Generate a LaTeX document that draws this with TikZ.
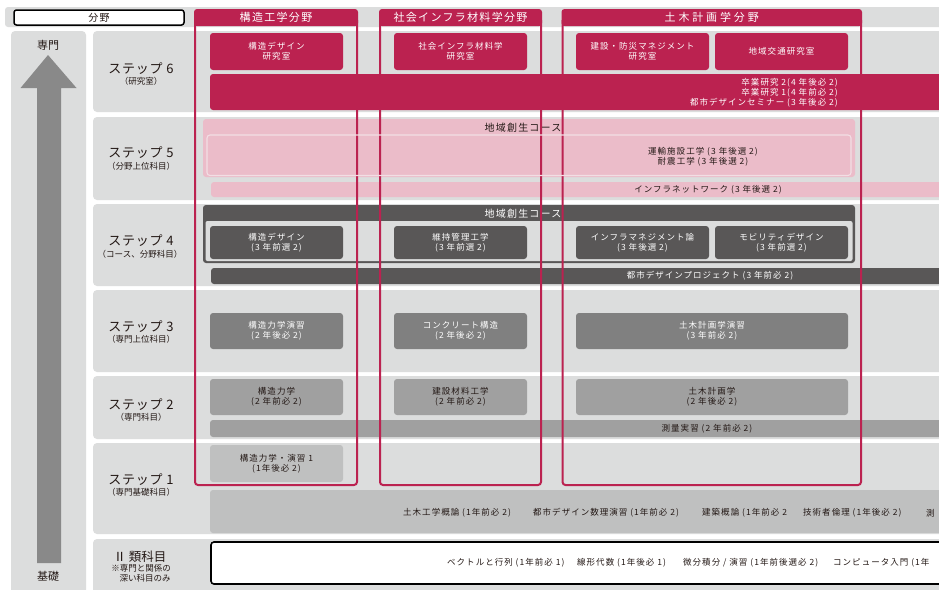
\documentclass[tikz,border=0pt]{standalone}
\usepackage{fontspec}
\setmainfont{Noto Sans CJK JP}
\newfontfamily\jpBox[LetterSpace=12]{Noto Sans CJK JP}
\newfontfamily\jpHead[LetterSpace=12]{Noto Sans CJK JP}
\newfontfamily\jpHeadW[LetterSpace=26]{Noto Sans CJK JP}
\newfontfamily\jpStep[LetterSpace=6]{Noto Sans CJK JP}
\definecolor{crim}{RGB}{187,34,80}
\definecolor{pinkc}{RGB}{235,188,201}
\definecolor{pinkline}{RGB}{242,222,228}
\definecolor{darkc}{RGB}{89,87,87}
\definecolor{midc}{RGB}{128,128,128}
\definecolor{lgc}{RGB}{160,160,160}
\definecolor{llc}{RGB}{191,192,192}
\definecolor{bgc}{RGB}{220,221,221}
\definecolor{arrc}{RGB}{137,137,137}
\definecolor{txtc}{RGB}{35,24,21}
\tikzset{
  bgpanel/.style={fill=bgc, rounded corners=4pt},
  boxbase/.style={rounded corners=3pt, inner sep=0pt, align=center, font=\jpBox\fontsize{8.5pt}{10pt}\selectfont},
  labbox/.style={boxbase, fill=crim, text=white},
  darkbox/.style={boxbase, fill=darkc, text=white},
  midbox/.style={boxbase, fill=midc, text=white},
  lgbox/.style={boxbase, fill=lgc, text=txtc},
  llbox/.style={boxbase, fill=llc, text=txtc},
  pinkbox/.style={boxbase, fill=pinkc, text=txtc},
  whitebox/.style={boxbase, fill=white, draw=black, line width=1.6pt},
  lbl/.style={inner sep=0pt, align=center, font=\jpBox\fontsize{8.5pt}{10pt}\selectfont, text=txtc},
  wlbl/.style={lbl, text=white},
  steplbl/.style={inner sep=0pt, font=\jpStep\fontsize{13pt}{13pt}\selectfont, text=txtc},
  stepsub/.style={inner sep=0pt, font=\fontsize{8.5pt}{9pt}\selectfont, text=txtc},
  header/.style={inner sep=0pt, fill=crim, text=white, rounded corners=3pt, minimum height=17pt, font=\jpHead\fontsize{11pt}{11pt}\selectfont},
  frame/.style={draw=crim, line width=2pt, rounded corners=3pt},
  coursetitle/.style={inner sep=0pt, font=\jpHead\fontsize{10pt}{10pt}\selectfont},
  sidelbl/.style={inner sep=0pt, font=\fontsize{11pt}{11pt}\selectfont, text=txtc},
}
\begin{document}
\begin{tikzpicture}[x=1pt,y=-1pt]
\useasboundingbox (0,0) rectangle (939,589);
\clip (0,0) rectangle (939,589);
\fill[white] (0,0) rectangle (939,589);

% backgrounds
\fill[bgc, rounded corners=3pt] (5,7) rectangle (950,27);
\fill[bgpanel] (11,31) rectangle (86,600);
\fill[bgpanel] (93,31) rectangle (950,112);
\fill[bgpanel] (93,117) rectangle (950,200);
\fill[bgpanel] (93,204) rectangle (950,286);
\fill[bgpanel] (93,290) rectangle (950,372);
\fill[bgpanel] (93,376) rectangle (950,439);
\fill[bgpanel] (93,443) rectangle (950,534);
\fill[bgpanel] (93,539) rectangle (950,600);

% top label
\node[draw=black, line width=1.5pt, fill=white, rounded corners=2.5pt, minimum width=170pt, minimum height=15pt, inner sep=0pt, font=\jpHead\fontsize{10pt}{10pt}\selectfont, text=txtc] (bunya) at (99,17.5) {分野};

% left arrow
\node[sidelbl] (senmon) at (48,45) {専門};
\fill[arrc] (48,55) -- (76.5,88) -- (61,88) -- (61,563) -- (37,563) -- (37,88) -- (20.5,88) -- cycle;
\node[sidelbl] (kiso) at (48,576) {基礎};

% step labels
\node[steplbl] (st6) at (141,68.5) {ステップ 6};
\node[stepsub] (st6s) at (141,81.5) {（研究室）};
\node[steplbl] (st5) at (141,153) {ステップ 5};
\node[stepsub] (st5s) at (141,166) {（分野上位科目）};
\node[steplbl] (st4) at (141,241) {ステップ 4};
\node[stepsub] (st4s) at (140,254) {（コース、分野科目）};
\node[steplbl] (st3) at (141,326.5) {ステップ 3};
\node[stepsub] (st3s) at (141,339) {（専門上位科目）};
\node[steplbl] (st2) at (141,405) {ステップ 2};
\node[stepsub] (st2s) at (141,417) {（専門科目）};
\node[steplbl] (st1) at (141,479.5) {ステップ 1};
\node[stepsub] (st1s) at (141,492) {（専門基礎科目）};
\node[inner sep=0pt, font=\fontsize{12.5pt}{12.5pt}\selectfont, text=txtc] (st0) at (140,557) {Ⅱ 類科目};
\node[stepsub] (st0s) at (141,568.5) {※専門と関係の};
\node[stepsub] (st0t) at (145,578) {深い科目のみ};

% step 6
\node[labbox, minimum width=133pt, minimum height=37pt] (lab1) at (276.5,51.5) {構造デザイン\\研究室};
\node[labbox, minimum width=133pt, minimum height=37pt] (lab2) at (460.5,51.5) {社会インフラ材料学\\研究室};
\node[labbox, minimum width=133pt, minimum height=37pt] (lab3) at (642.5,51.5) {建設・防災マネジメント\\研究室};
\node[labbox, minimum width=133pt, minimum height=37pt] (lab4) at (781.5,51.5) {地域交通研究室};
\node[labbox, minimum width=740pt, minimum height=36pt] (bar6) at (580,92) {};
\node[wlbl, align=right, anchor=east] (bar6t) at (838,92.5) {卒業研究 2(4 年後必 2)\\卒業研究 1(4 年前必 2)\\都市デザインセミナー (3 年後必 2)};

% step 5
\node[pinkbox, minimum width=652pt, minimum height=58pt] (course5) at (529,148) {};
\node[coursetitle, text=txtc] (course5t) at (523,127.5) {地域創生コース};
\node[pinkbox, minimum width=636pt, minimum height=34pt] (in5) at (529,156) {};
\node[lbl] (in5t) at (703,156.5) {運輸施設工学 (3 年後選 2)\\耐震工学 (3 年後選 2)};
\node[pinkbox, minimum width=739pt, minimum height=15pt] (bar5) at (580.5,189.5) {};
\node[lbl] (bar5t) at (708,189.5) {インフラネットワーク (3 年後選 2)};

% step 4
\node[darkbox, minimum width=652pt, minimum height=58pt] (course4) at (529,234) {};
\fill[bgc, rounded corners=2pt] (205.5,221) rectangle (852.5,261);
\node[coursetitle, text=white] (course4t) at (523,213.5) {地域創生コース};
\node[darkbox, minimum width=133pt, minimum height=33pt] (c41) at (276.5,242.5) {構造デザイン\\(3 年前選 2)};
\node[darkbox, minimum width=133pt, minimum height=33pt] (c42) at (460.5,242.5) {維持管理工学\\(3 年前選 2)};
\node[darkbox, minimum width=133pt, minimum height=33pt] (c43) at (642.5,242.5) {インフラマネジメント論\\(3 年後選 2)};
\node[darkbox, minimum width=133pt, minimum height=33pt] (c44) at (781.5,242.5) {モビリティデザイン\\(3 年前選 2)};
\node[darkbox, minimum width=739pt, minimum height=16pt] (bar4) at (580.5,276) {};
\node[wlbl] (bar4t) at (710,276) {都市デザインプロジェクト (3 年前必 2)};

% step 3
\node[midbox, minimum width=133pt, minimum height=36pt] (c31) at (276.5,331) {構造力学演習\\(2 年後必 2)};
\node[midbox, minimum width=133pt, minimum height=36pt] (c32) at (460.5,331) {コンクリート構造\\(2 年後必 2)};
\node[midbox, minimum width=272pt, minimum height=36pt] (c33) at (712,331) {土木計画学演習\\(3 年前必 2)};

% step 2
\node[lgbox, minimum width=133pt, minimum height=36pt] (c21) at (276.5,397) {構造力学\\(2 年前必 2)};
\node[lgbox, minimum width=133pt, minimum height=36pt] (c22) at (460.5,397) {建設材料工学\\(2 年前必 2)};
\node[lgbox, minimum width=272pt, minimum height=36pt] (c23) at (712,397) {土木計画学\\(2 年後必 2)};
\node[lgbox, minimum width=740pt, minimum height=17pt] (bar2) at (580,428.5) {};
\node[lbl] (bar2t) at (707,428.5) {測量実習 (2 年前必 2)};

% step 1
\node[llbox, minimum width=133pt, minimum height=37pt] (c11) at (276.5,463.5) {構造力学・演習 1\\(1年後必 2)};
\node[llbox, minimum width=740pt, minimum height=43pt] (bar1) at (580,511.5) {};
\node[lbl, anchor=west] (b1a) at (403,513) {土木工学概論 (1年前必 2)};
\node[lbl, anchor=west] (b1b) at (533,513) {都市デザイン数理演習 (1年前必 2)};
\node[lbl, anchor=west] (b1c) at (702,513) {建築概論 (1年前必 2};
\node[lbl, anchor=west] (b1d) at (803,513) {技術者倫理 (1年後必 2)};
\node[lbl, anchor=west] (b1e) at (926,513) {測};

% II
\node[whitebox, minimum width=740pt, minimum height=42pt] (bar0) at (581,563) {};
\node[lbl, anchor=west] (b0a) at (447,563) {ベクトルと行列 (1年前必 1)};
\node[lbl, anchor=west] (b0b) at (577,563) {線形代数 (1年後必 1)};
\node[lbl, anchor=west] (b0c) at (683,563) {微分積分 / 演習 (1年前後選必 2)};
\node[lbl, anchor=west] (b0d) at (833,563) {コンピュータ入門 (1年};

% field frames
\draw[frame] (195,20) -- (195,485) -- (357,485) -- (357,20);
\draw[frame] (380,20) -- (380,485) -- (541,485) -- (541,20);
\draw[frame] (562.5,20) -- (562.5,485) -- (861,485) -- (861,20);
\fill[crim] (194,17.5) rectangle (358,26);
\fill[crim] (379,17.5) rectangle (542,26);
\fill[crim] (561.5,17.5) rectangle (862,26);
\node[header, minimum width=164pt] (f1) at (276,17.5) {構造工学分野};
\node[header, minimum width=163pt] (f2) at (460.5,17.5) {社会インフラ材料学分野};
\node[header, minimum width=300.5pt, font=\jpHeadW\fontsize{11pt}{11pt}\selectfont] (f3) at (711.75,17.5) {土木計画学分野};

% step 5 light inner outline (over frame lines)
\draw[pinkline, line width=1.1pt, rounded corners=3pt] (207,135) rectangle (851,175.5);
\end{tikzpicture}
\end{document}
